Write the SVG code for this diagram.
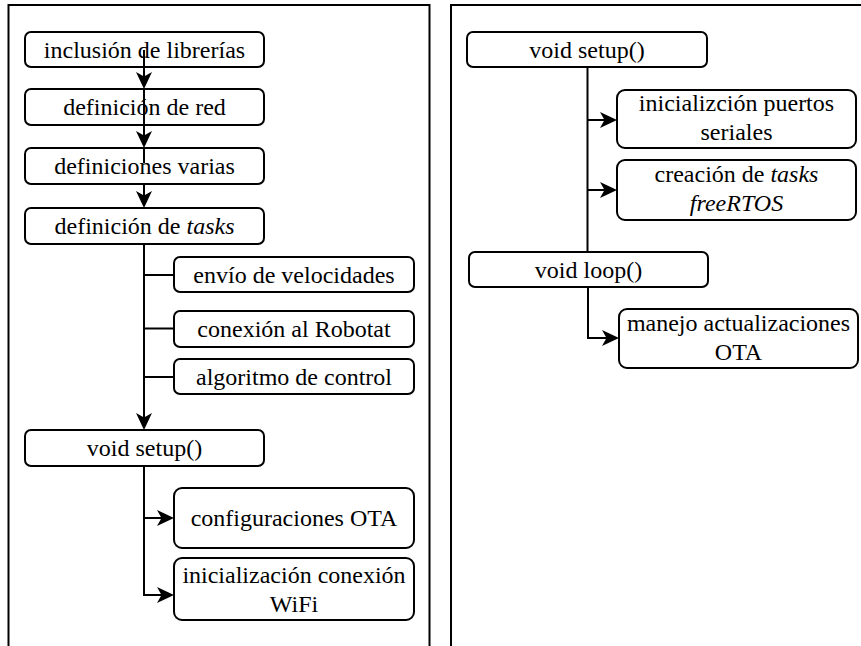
<svg xmlns="http://www.w3.org/2000/svg" width="861" height="646" viewBox="0 0 861 646">
  <style>
    .panel { fill: none; stroke: #000; stroke-width: 2; }
    .box { fill: #fff; stroke: #000; stroke-width: 2; }
    text { font-family: 'Liberation Serif', 'Times New Roman', Times, serif; font-size: 24px; fill: #000; text-anchor: middle; }
    .it { font-style: italic; }
    .wire { fill: none; stroke: #000; stroke-width: 2; }
    .wire.arrow { marker-end: url(#head); }
  </style>
  <defs>
    <!-- filled notched arrowhead, tip 4px past the path end -->
    <marker id="head" markerWidth="17" markerHeight="16" refX="13" refY="8" orient="auto" markerUnits="userSpaceOnUse">
      <path d="M0,0 L17,8 L0,16 L4.5,8 Z" fill="#000"/>
    </marker>
  </defs>
  <rect width="861" height="646" fill="#fff"/>

  <!-- panel frames -->
  <g id="panels">
    <path class="panel" d="M8.5,646 V5 H429.5 V646"/>
    <path class="panel" d="M451,646 V5 H861"/>
  </g>

  <!-- left panel: program structure -->
  <g id="left">
    <g id="n-librerias"><rect class="box" x="25" y="32" width="239" height="35" rx="6"/><text x="144.5" y="57.5">inclusión de librerías</text></g>
    <g id="n-red"><rect class="box" x="25" y="89" width="239" height="36" rx="6"/><text x="144.5" y="115">definición de red</text></g>
    <g id="n-varias"><rect class="box" x="25" y="148" width="239" height="36" rx="6"/><text x="144.5" y="174">definiciones varias</text></g>
    <g id="n-tasks"><rect class="box" x="25" y="208" width="239" height="36" rx="6"/><text x="144.5" y="234">definición de <tspan class="it">tasks</tspan></text></g>
    <g id="n-velocidades"><rect class="box" x="174" y="257" width="240" height="35" rx="6"/><text x="294" y="282.5">envío de velocidades</text></g>
    <g id="n-robotat"><rect class="box" x="174" y="311" width="240" height="36" rx="6"/><text x="294" y="337">conexión al Robotat</text></g>
    <g id="n-control"><rect class="box" x="174" y="359" width="240" height="35" rx="6"/><text x="294" y="384.5">algoritmo de control</text></g>
    <g id="n-setup-l"><rect class="box" x="25" y="430" width="239" height="36" rx="6"/><text x="144.5" y="456">void setup()</text></g>
    <g id="n-ota-cfg"><rect class="box" x="174" y="488" width="240" height="60" rx="8"/><text x="294" y="526">configuraciones OTA</text></g>
    <g id="n-wifi"><rect class="box" x="174" y="558" width="240" height="62" rx="8"/><text x="294" y="583">inicialización conexión</text><text x="294" y="612">WiFi</text></g>
  </g>

  <!-- right panel: setup / loop -->
  <g id="right">
    <g id="n-setup-r"><rect class="box" x="467" y="32" width="240" height="35" rx="6"/><text x="587" y="57.5">void setup()</text></g>
    <g id="n-seriales"><rect class="box" x="617" y="90" width="239" height="58" rx="8"/><text x="736.5" y="111">inicializción puertos</text><text x="736.5" y="140">seriales</text></g>
    <g id="n-freertos"><rect class="box" x="617" y="160" width="239" height="60" rx="8"/><text x="736.5" y="182">creación de <tspan class="it">tasks</tspan></text><text class="it" x="736.5" y="211">freeRTOS</text></g>
    <g id="n-loop"><rect class="box" x="469" y="252" width="239" height="35" rx="6"/><text x="588.5" y="277.5">void loop()</text></g>
    <g id="n-ota-loop"><rect class="box" x="619" y="309" width="239" height="59" rx="8"/><text x="738.5" y="331">manejo actualizaciones</text><text x="738.5" y="360">OTA</text></g>
  </g>

  <!-- connectors -->
  <g id="connectors">
    <path class="wire arrow" d="M144,50 V85"/>
    <path class="wire arrow" d="M144,89 V144"/>
    <path class="wire" d="M144,148 V163"/>
    <path class="wire arrow" d="M144,184 V204"/>
    <path class="wire arrow" d="M144,244 V426"/>
    <path class="wire" d="M144,275 H174 M144,328.5 H174 M144,377 H174"/>
    <path class="wire arrow" d="M144,466 V595 H170"/>
    <path class="wire arrow" d="M144,518 H170"/>
    <path class="wire" d="M587.5,67 V252"/>
    <path class="wire arrow" d="M587.5,120 H613"/>
    <path class="wire arrow" d="M587.5,190 H613"/>
    <path class="wire arrow" d="M588,287 V338 H615"/>
  </g>
</svg>
